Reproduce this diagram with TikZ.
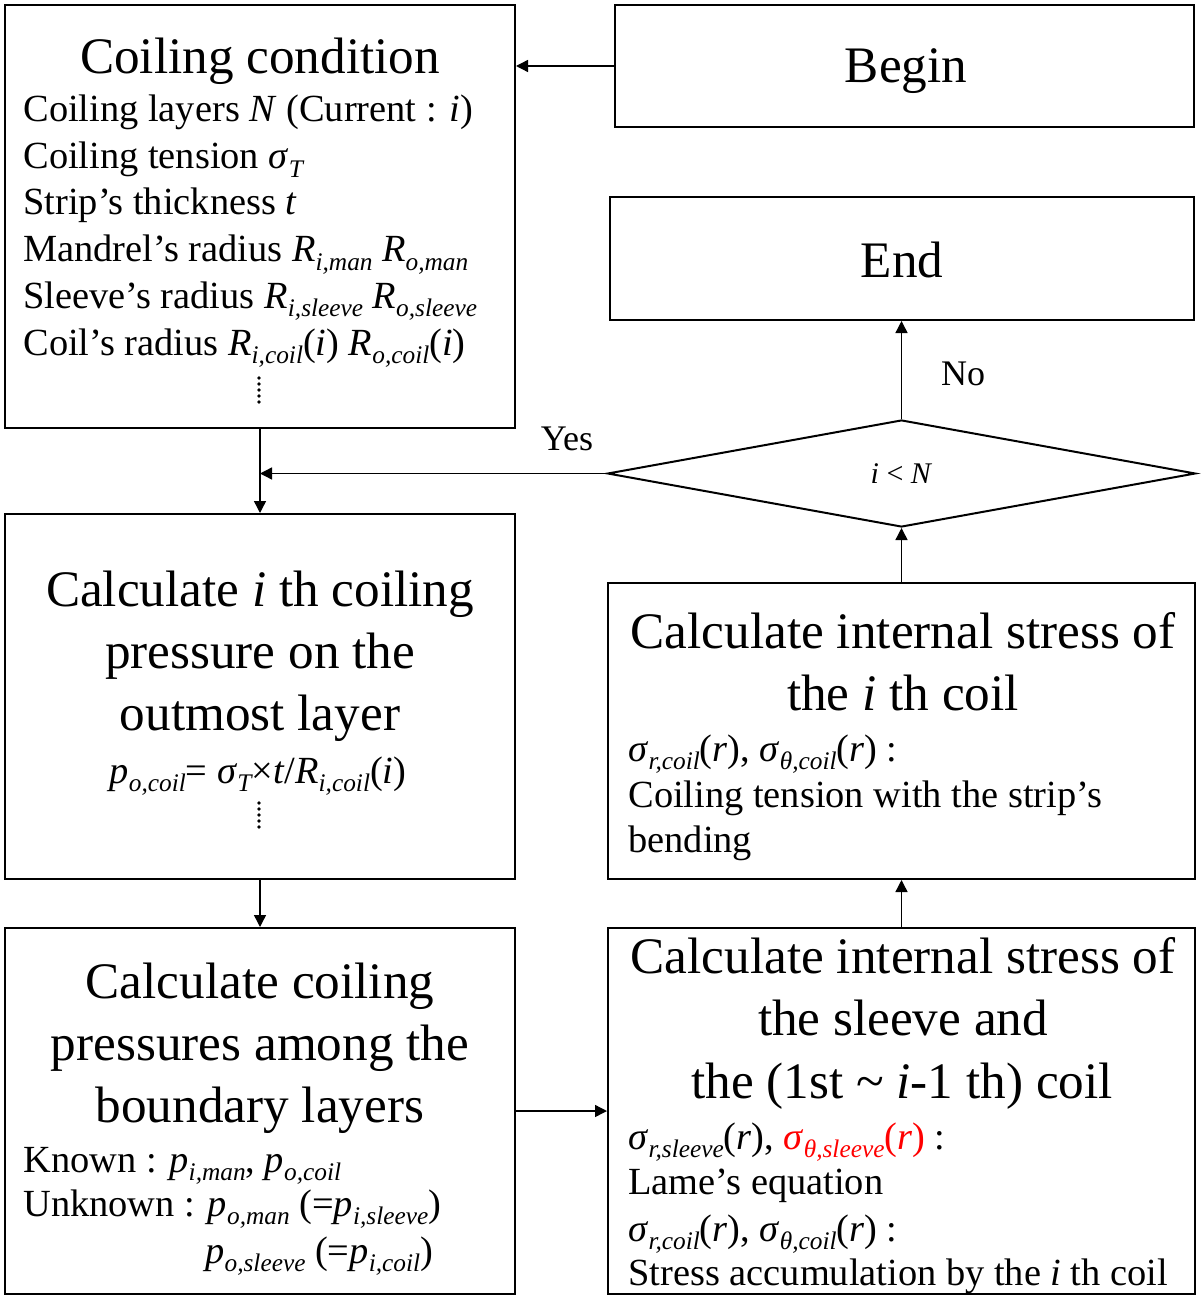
\documentclass[tikz,border=0pt]{standalone}
\usepackage{fontspec}
\setmainfont{Liberation Serif}
\usetikzlibrary{shapes.geometric,arrows.meta}
\makeatletter
\newcommand\lo[1]{\raisebox{-0.22em}{\fontsize{\fpeval{0.66*\f@size}}{\fpeval{0.8*\f@size}}\selectfont\itshape #1}}
\makeatother
\newcommand\titlefont{\fontsize{25.6}{31}\selectfont}
\newcommand\bodyfont{\fontsize{19.2}{23}\selectfont}
\begin{document}
\begin{tikzpicture}[x=0.5pt,y=-0.5pt,
  box/.style={draw,line width=1pt,inner sep=0pt,rectangle},
  ttl/.style={inner sep=0pt,anchor=base,font=\titlefont},
  txt/.style={inner sep=0pt,anchor=base west,font=\bodyfont},
  dotf/.style={fill=black},
  arr/.style={line width=0.7pt,-{Triangle[length=6pt,width=6pt]}},
  lbl/.style={inner sep=0pt,anchor=base,font=\fontsize{18}{21}\selectfont}]
\useasboundingbox (0,0) rectangle (1200,1299);
% boxes
\node[box,minimum width=255pt,minimum height=211.5pt] (cc) at (260,216.5) {};
\node[box,minimum width=289.5pt,minimum height=61pt] (begin) at (904.5,66) {};
\node[box,minimum width=292pt,minimum height=61.5pt] (end) at (902,258.5) {};
\node[draw,line width=1pt,diamond,inner sep=0pt,minimum width=294pt,minimum height=53.5pt,font=\fontsize{15}{18}\selectfont] (dia) at (901.5,473.5) {\textit{i} < \textit{N}};
\node[box,minimum width=255pt,minimum height=182.5pt] (ci) at (260,696.5) {};
\node[box,minimum width=293.5pt,minimum height=148pt] (cit) at (901.5,731) {};
\node[box,minimum width=255pt,minimum height=183pt] (cp) at (260,1111) {};
\node[box,minimum width=293.5pt,minimum height=183pt] (cs) at (901.5,1111) {};
% Begin / End text
\node[ttl] (tbegin) at (906,83) {Begin};
\node[ttl] (tend) at (902,278) {End};
% Coiling condition
\node[ttl] (t1) at (260,74) {Coiling condition};
\node[txt] (c1) at (23,122) {Coiling layers \textit{N} (Current : \textit{i})};
\node[txt] (c2) at (23,169) {Coiling tension \textit{σ}\lo{T}};
\node[txt] (c3) at (23,215) {Strip’s thickness \textit{t}};
\node[txt] (c4) at (23,262) {Mandrel’s radius \textit{R}\lo{i,man} \textit{R}\lo{o,man}};
\node[txt] (c5) at (23,308) {Sleeve’s radius \textit{R}\lo{i,sleeve} \textit{R}\lo{o,sleeve}};
\node[txt] (c6) at (23,355) {Coil’s radius \textit{R}\lo{i,coil}(\textit{i}) \textit{R}\lo{o,coil}(\textit{i})};
\foreach \yy in {378,384,390,396,402} \fill[dotf] (259,\yy) circle (0.9pt);
% Calculate i th
\node[ttl] (i1) at (260,606) {Calculate \textit{i} th coiling};
\node[ttl] (i2) at (260,668) {pressure on the};
\node[ttl] (i3) at (260,730) {outmost layer};
\node[inner sep=0pt,anchor=base,font=\bodyfont] (i4) at (258,783) {\textit{p}\lo{o,coil}= \textit{σ}\lo{T}×\textit{t}/\textit{R}\lo{i,coil}(\textit{i})};
\foreach \yy in {803,809,815,821,827} \fill[dotf] (259,\yy) circle (0.9pt);
% Coiling pressures
\node[ttl] (p1) at (260,998) {Calculate coiling};
\node[ttl] (p2) at (260,1060) {pressures among the};
\node[ttl] (p3) at (260,1122) {boundary layers};
\node[txt] (p4) at (23,1172) {Known : \textit{p}\lo{i,man}, \textit{p}\lo{o,coil}};
\node[txt] (p5) at (23,1216) {Unknown : \textit{p}\lo{o,man} (=\textit{p}\lo{i,sleeve})};
\node[txt] (p6) at (205,1263) {\textit{p}\lo{o,sleeve} (=\textit{p}\lo{i,coil})};
% sleeve box
\node[ttl] (s1) at (903,973) {Calculate internal stress of};
\node[ttl] (s2) at (903,1035) {the sleeve and};
\node[ttl] (s3) at (902,1098) {the (1st \textasciitilde{} \textit{i}-1 th) coil};
\node[txt] (s4) at (628,1149) {\textit{σ}\lo{r,sleeve}(\textit{r}), {\color{red}\textit{σ}\lo{θ,sleeve}(\textit{r})} :};
\node[txt] (s5) at (628,1194) {Lame’s equation};
\node[txt] (s6) at (628,1241) {\textit{σ}\lo{r,coil}(\textit{r}), \textit{σ}\lo{θ,coil}(\textit{r}) :};
\node[txt] (s7) at (628,1285) {Stress accumulation by the \textit{i} th coil};
% i th coil box
\node[ttl] (k1) at (903,648) {Calculate internal stress of};
\node[ttl] (k2) at (903,710) {the \textit{i} th coil};
\node[txt] (k3) at (628,761) {\textit{σ}\lo{r,coil}(\textit{r}), \textit{σ}\lo{θ,coil}(\textit{r}) :};
\node[txt] (k4) at (628,807) {Coiling tension with the strip’s};
\node[txt] (k5) at (628,852) {bending};
% labels
\node[lbl] (yes) at (567,450) {Yes};
\node[lbl] (no) at (963,385) {No};
% connectors
\draw[arr] (begin.west) -- (begin.west -| cc.east);
\draw[arr] (cc.south) -- (ci.north);
\draw[arr] (dia.west) -- (dia.west -| cc.south);
\draw[arr] (dia.north) -- (dia.north |- end.south);
\draw[arr] (ci.south) -- (cp.north);
\draw[arr] (cp.east) -- (cs.west);
\draw[arr] (cs.north) -- (cit.south);
\draw[arr] (cit.north) -- (dia.south);
\end{tikzpicture}
\end{document}
